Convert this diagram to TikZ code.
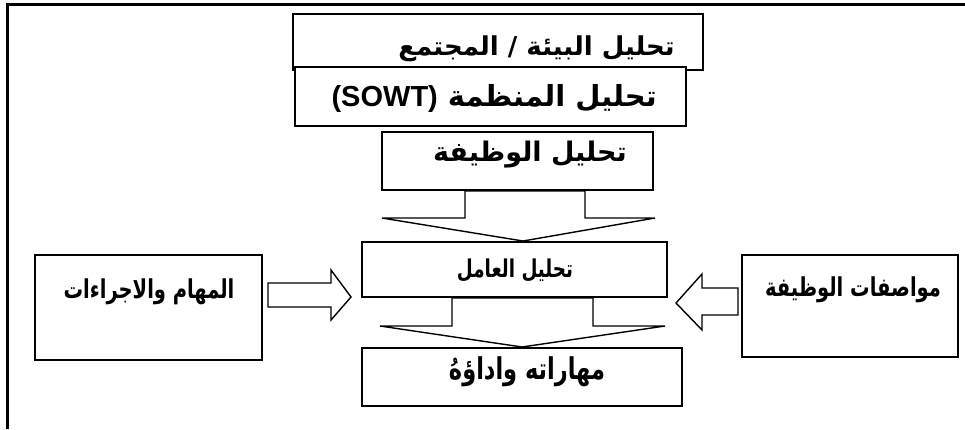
\documentclass[tikz,border=0pt]{standalone}
\usepackage{fontspec}
\setmainfont{Liberation Sans}
\newfontfamily\arabicfont[Script=Arabic]{DejaVu Sans}
\newfontfamily\arabiccond[Script=Arabic, FakeStretch=0.75]{DejaVu Sans}
\TeXXeTstate=1
\usetikzlibrary{calc}

\newcommand{\artxt}[1]{{\arabicfont\bfseries\beginR #1\endR}}
\newcommand{\arcond}[1]{{\arabiccond\bfseries\beginR #1\endR}}

\tikzset{
  stagebox/.style={draw, line width=2pt, fill=white, inner sep=0pt},
  sidebox/.style={draw, line width=2pt, fill=white, inner sep=0pt},
  lbl/.style={inner sep=0pt, font=\fontsize{#1}{#1}\selectfont},
  lbl/.default=26,
  blk/.style={draw, line width=1.4pt, fill=white, line join=miter},
  frame/.style={line width=3pt}
}

\begin{document}
\begin{tikzpicture}[x=1pt, y=-1pt]
    \useasboundingbox (0,0) rectangle (965,429);
    % Outer frame (open at right and bottom)
    \draw[frame] (7,429) -- (7,4) -- (965,4);

    % Analysis stages
    \node[stagebox, minimum width=410pt, minimum height=56pt] (env) at (498,42) {};
    \node[stagebox, minimum width=391pt, minimum height=59pt] (org) at (490.5,96.5) {};
    \node[stagebox, minimum width=271pt, minimum height=58pt] (job) at (517.5,161) {};
    \node[stagebox, minimum width=305pt, minimum height=55pt] (worker) at (514.5,269.5) {};
    \node[stagebox, minimum width=320pt, minimum height=58pt] (skills) at (522,377) {};

    % Side inputs
    \node[sidebox, minimum width=227pt, minimum height=105pt] (tasks) at (148.5,307.5) {};
    \node[sidebox, minimum width=216pt, minimum height=102pt] (spec) at (850,306) {};

    % Labels
    \node[lbl=26, anchor=east] (envT) at (675,49) {\artxt{تحليل البيئة / المجتمع}};
    \node[lbl=29, anchor=east] (orgT) at (657,98) {\artxt{تحليل المنظمة \beginL{\normalfont\bfseries(SOWT)}\endL}};
    \node[lbl=27, anchor=east] (jobT) at (627,155) {\artxt{تحليل الوظيفة}};
    \node[lbl=24.5] (workerT) at (515,270) {\arcond{تحليل العامل}};
    \node[lbl=30] (skillsT) at (527,372) {\arcond{مهاراته واداؤهُ}};
    \node[lbl=26] (tasksT) at (149,292) {\arcond{المهام والاجراءات}};
    \node[lbl=26] (specT) at (853,290) {\arcond{مواصفات الوظيفة}};

    % Block arrows
    \draw[blk] ($(job.south)+(-52.5,0)$) -- ++(0,27) -- ++(-83,0)
        -- ($(worker.north)+(8.5,0)$) -- ($(job.south)+(137.5,27)$)
        -- ++(-70,0) -- ($(job.south)+(67.5,0)$) -- cycle;
    \draw[blk] ($(worker.south)+(-62.5,0)$) -- ++(0,28) -- ++(-72,0)
        -- (skills.north) -- ($(worker.south)+(150.5,28)$)
        -- ++(-72,0) -- ($(worker.south)+(78.5,0)$) -- cycle;
    \draw[blk] ($(tasks.east)+(5,-24.5)$) -- ++(63,0) -- ++(0,-13)
        -- ($(worker.west)+(-10,27.5)$) -- ($(tasks.east)+(68,12.5)$)
        -- ++(0,-13) -- ++(-63,0) -- cycle;
    \draw[blk] ($(spec.west)+(-3,-18)$) -- ++(-36,0) -- ++(0,-14)
        -- ($(worker.east)+(8,33.5)$) -- ($(spec.west)+(-39,24)$)
        -- ++(0,-15) -- ++(36,0) -- cycle;
\end{tikzpicture}
\end{document}
